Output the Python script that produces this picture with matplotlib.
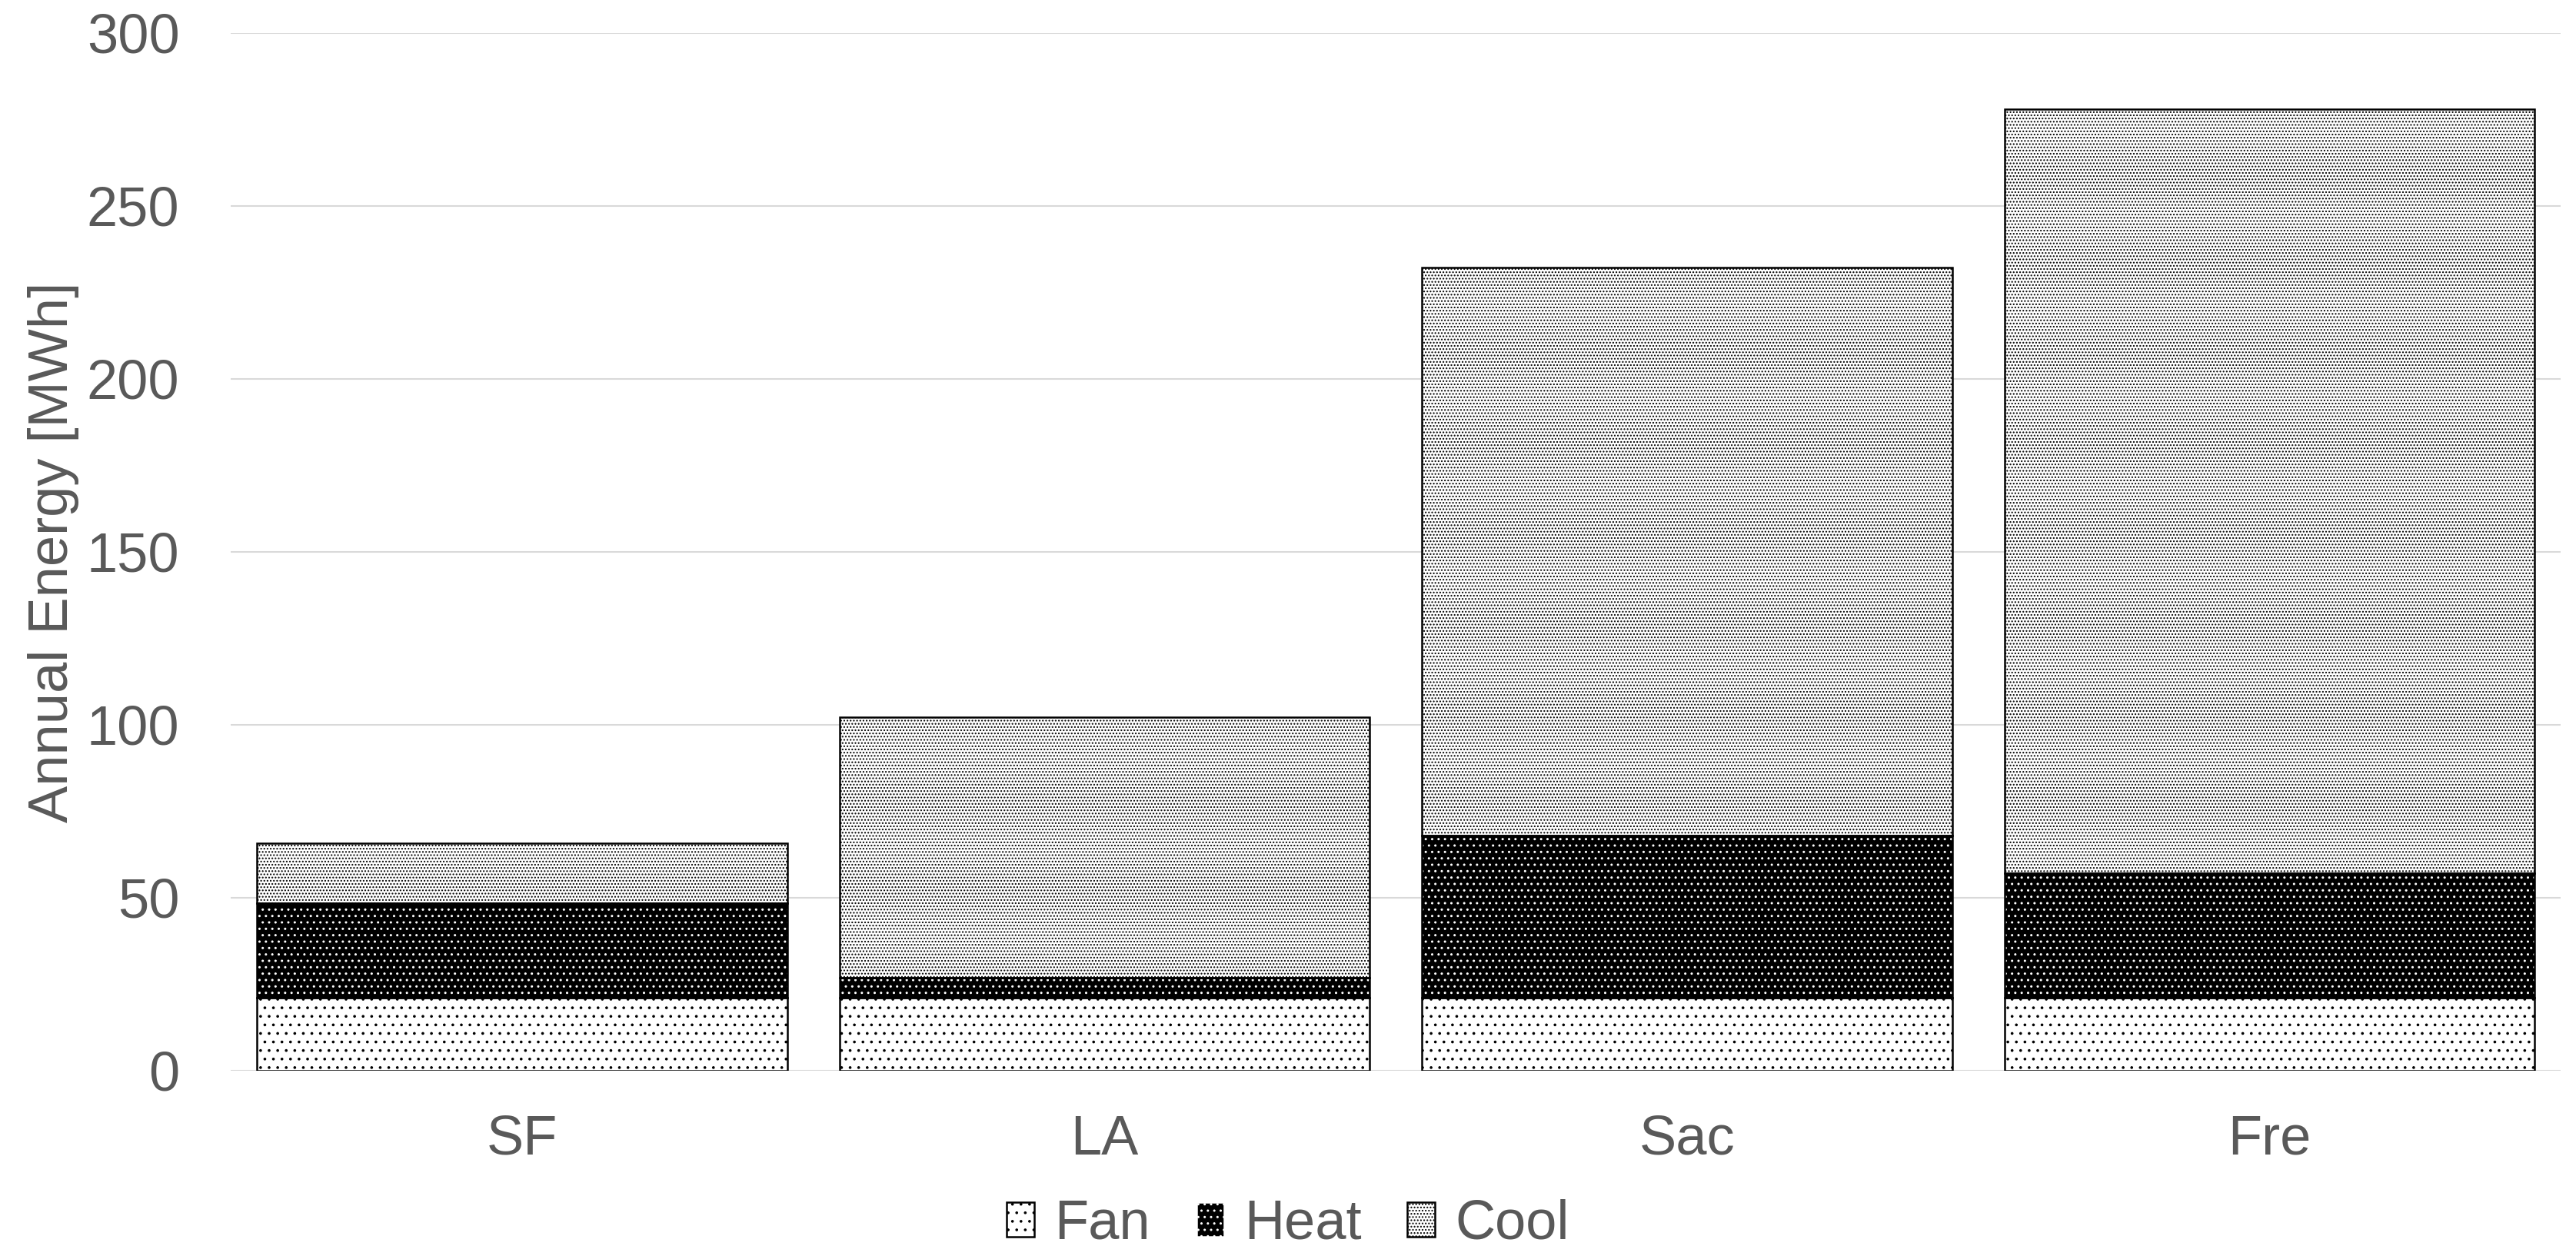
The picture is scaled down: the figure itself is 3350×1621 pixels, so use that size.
import matplotlib
matplotlib.use("Agg")
import matplotlib.pyplot as plt
from matplotlib.patches import Patch
import numpy as np

cities = ["SF", "LA", "Sac", "Fre"]
fan = [21.0, 21.0, 21.0, 21.0]
heat = [27.4, 5.9, 46.9, 36.2]
cool = [17.4, 75.2, 164.2, 220.9]

series = ["Fan", "Heat", "Cool"]
yticks = [0, 50, 100, 150, 200, 250, 300]

TEXT = "#595959"
GRID = "#d9d9d9"

plt.rcParams["font.family"] = ["Liberation Sans", "DejaVu Sans"]
plt.rcParams["hatch.linewidth"] = 0.5

fig = plt.figure(figsize=(16.75, 8.105), dpi=200)
ax = fig.add_axes([0.0896, 0.1407, 0.9045, 0.8328])

x = np.arange(len(cities))
width = 0.91
fan_b = np.zeros(len(cities))
heat_b = fan_b + np.array(fan)
cool_b = heat_b + np.array(heat)

# fan: sparse black dots on white
ax.bar(x, fan, width, bottom=fan_b, color="white", edgecolor="black",
       hatch="...", linewidth=0.9, zorder=3)
# heat: white dots on black, outline drawn separately so the hatch stays white
ax.bar(x, heat, width, bottom=heat_b, color="black", edgecolor="white",
       hatch="....", linewidth=0, zorder=3)
ax.bar(x, heat, width, bottom=heat_b, fill=False, edgecolor="black",
       linewidth=0.9, zorder=4)
# cool: dense black dots on white
ax.bar(x, cool, width, bottom=cool_b, color="white", edgecolor="black",
       hatch="." * 8, linewidth=0.9, zorder=3)

ax.set_xlim(-0.5, len(cities) - 0.5)
ax.set_ylim(0, 300)
ax.set_yticks(yticks)
ax.set_xticks(x)
ax.set_xticklabels(cities)
ax.yaxis.grid(True, color=GRID, linewidth=0.75, zorder=0)
ax.set_axisbelow(True)
for s in ax.spines.values():
    s.set_visible(False)
ax.tick_params(axis="both", length=0, labelsize=26, labelcolor=TEXT)
ax.tick_params(axis="y", pad=24)
ax.tick_params(axis="x", pad=20.5)
ax.set_ylabel("Annual Energy [MWh]", fontsize=26, color=TEXT)
ax.yaxis.set_label_coords(-0.065, 0.5)

handles = [
    Patch(facecolor="white", edgecolor="black", hatch="...", linewidth=0.9),
    Patch(facecolor="black", edgecolor="white", hatch="....", linewidth=0.9),
    Patch(facecolor="white", edgecolor="black", hatch="." * 8, linewidth=0.9),
]
fig.legend(handles, series, loc="center", bbox_to_anchor=(0.5, 0.017),
           ncol=3, frameon=False, fontsize=26, labelcolor=TEXT,
           handlelength=0.5, handleheight=0.6, handletextpad=0.36,
           columnspacing=0.83, borderpad=0, borderaxespad=0)

fig.savefig("out.png", dpi=200)
